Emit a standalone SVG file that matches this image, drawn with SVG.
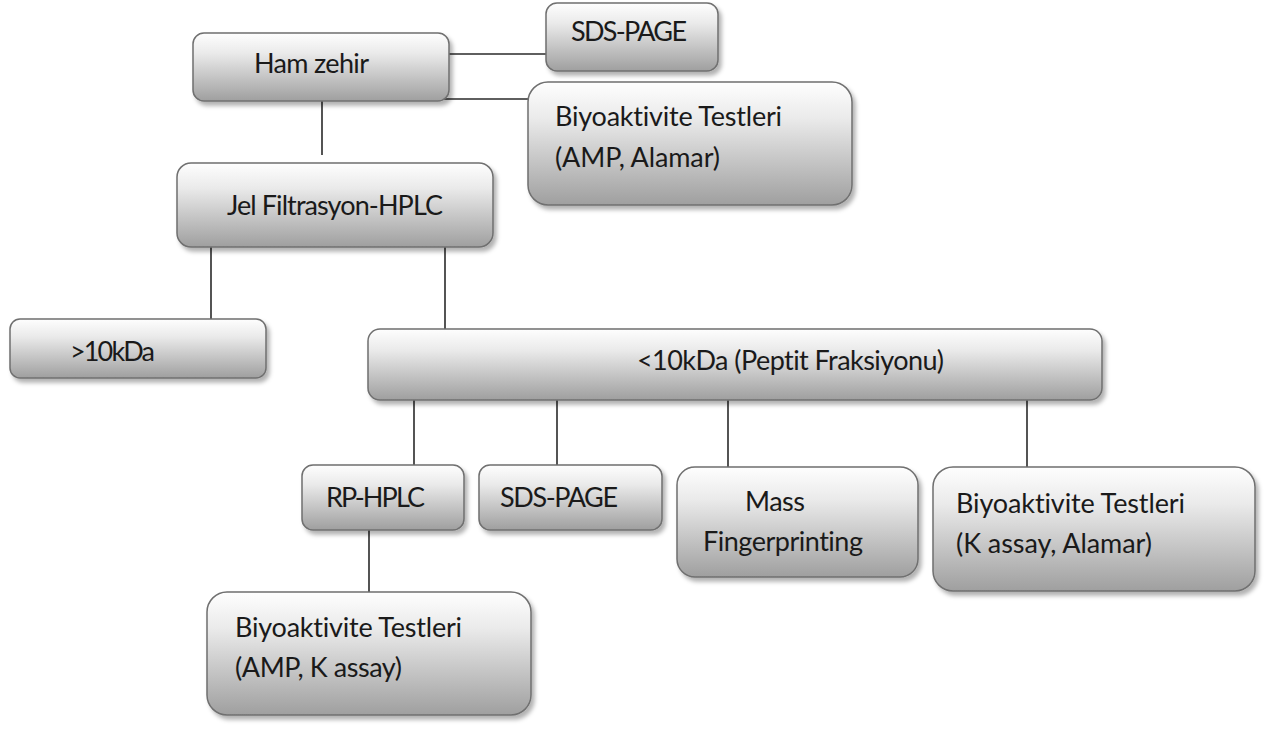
<svg xmlns="http://www.w3.org/2000/svg" width="1275" height="751" viewBox="0 0 1275 751">
<defs>
<linearGradient id="g" x1="0" y1="0" x2="0" y2="1">
<stop offset="0" stop-color="#fefefe"/>
<stop offset="0.3" stop-color="#eaeaea"/>
<stop offset="1" stop-color="#9f9f9f"/>
</linearGradient>
<filter id="sh" x="-10%" y="-10%" width="125%" height="135%">
<feDropShadow dx="3" dy="4" stdDeviation="2" flood-color="#000" flood-opacity="0.3"/>
</filter>
</defs>
<style>
.box{fill:url(#g);stroke:#6f6f6f;stroke-width:1.5;filter:url(#sh)}
.t{font-family:Lato,"Liberation Sans",sans-serif;font-size:27px;fill:#1a1a1a;font-variant-ligatures:none}
.c{stroke:#2a2a2a;stroke-width:1.6;fill:none}
</style>
<rect width="1275" height="751" fill="#fff"/>
<g id="connectors">
<line class="c" x1="449" y1="54" x2="546" y2="54"/>
<line class="c" x1="441" y1="99" x2="528" y2="99"/>
<line class="c" x1="322" y1="100" x2="322" y2="155"/>
<line class="c" x1="211" y1="247" x2="211" y2="320"/>
<line class="c" x1="445" y1="247" x2="445" y2="329"/>
<line class="c" x1="414" y1="400" x2="414" y2="465"/>
<line class="c" x1="557" y1="400" x2="557" y2="465"/>
<line class="c" x1="728" y1="400" x2="728" y2="467"/>
<line class="c" x1="1027" y1="400" x2="1027" y2="467"/>
<line class="c" x1="369" y1="530" x2="369" y2="592"/>
</g>
<g id="ham-zehir">
<rect class="box" x="193" y="33" width="256" height="68" rx="11"/>
<text class="t" x="254" y="73" textLength="115">Ham zehir</text>
</g>
<g id="sds-page-top">
<rect class="box" x="546" y="3" width="172" height="68" rx="11"/>
<text class="t" x="571" y="41" textLength="116">SDS-PAGE</text>
</g>
<g id="biyo-top">
<rect class="box" x="528" y="82" width="324" height="123" rx="20"/>
<text class="t" x="555" y="126" textLength="227">Biyoaktivite Testleri</text>
<text class="t" x="555" y="167" textLength="165">(AMP, Alamar)</text>
</g>
<g id="jel-filtrasyon">
<rect class="box" x="177" y="163" width="316" height="84" rx="14"/>
<text class="t" x="227" y="215" textLength="216">Jel Filtrasyon-HPLC</text>
</g>
<g id="gt10kda">
<rect class="box" x="10" y="319" width="256" height="59" rx="10"/>
<text class="t" x="70" y="361" textLength="85">&gt;10kDa</text>
</g>
<g id="lt10kda">
<rect class="box" x="368" y="329" width="734" height="71" rx="12"/>
<text class="t" x="637" y="370" textLength="307">&lt;10kDa (Peptit Fraksiyonu)</text>
</g>
<g id="rp-hplc">
<rect class="box" x="302" y="465" width="162" height="65" rx="11"/>
<text class="t" x="326" y="507" textLength="99">RP-HPLC</text>
</g>
<g id="sds-page-bottom">
<rect class="box" x="479" y="465" width="183" height="65" rx="11"/>
<text class="t" x="500" y="507" textLength="118">SDS-PAGE</text>
</g>
<g id="mass-fingerprinting">
<rect class="box" x="677" y="467" width="241" height="110" rx="18"/>
<text class="t" x="745" y="511" textLength="60">Mass</text>
<text class="t" x="703" y="551" textLength="160">Fingerprinting</text>
</g>
<g id="biyo-right">
<rect class="box" x="933" y="467" width="322" height="124" rx="20"/>
<text class="t" x="956" y="513" textLength="229">Biyoaktivite Testleri</text>
<text class="t" x="956" y="553" textLength="196">(K assay, Alamar)</text>
</g>
<g id="biyo-bottom">
<rect class="box" x="207" y="592" width="324" height="123" rx="20"/>
<text class="t" x="235" y="637" textLength="227">Biyoaktivite Testleri</text>
<text class="t" x="235" y="677" textLength="167">(AMP, K assay)</text>
</g>
</svg>
